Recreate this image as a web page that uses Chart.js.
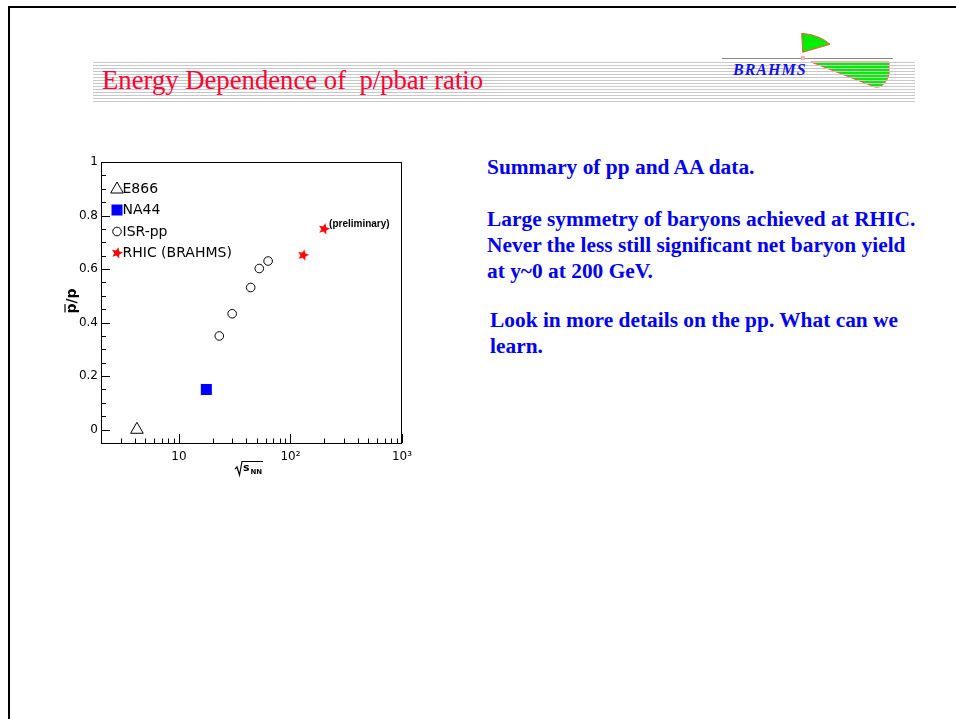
<!DOCTYPE html>
<html>
<head>
<meta charset="utf-8">
<script src="https://cdn.jsdelivr.net/npm/chart.js@4.4.0/dist/chart.umd.min.js"></script>
<style>
  body { margin: 0; background: #fff; }
  #page { position: relative; width: 956px; height: 719px; overflow: hidden; background: #fff; }
  #deco { position: absolute; left: 0; top: 0; }
  #title { position: absolute; left: 102px; top: 65px; font: 26.7px "Liberation Serif", serif; line-height: 30px;
           color: #ff0033; white-space: pre; }
  .txt { position: absolute; font: bold 21.4px "Liberation Serif", serif; line-height: 26px; color: #0000f0; white-space: pre; }
  #plot { position: absolute; left: 40px; top: 150px; }
</style>
</head>
<body>
<div id="page">
  <svg id="deco" width="956" height="719">
    <!-- slide frame -->
    <line x1="9" y1="7" x2="956" y2="7" stroke="#000" stroke-width="2"/>
    <line x1="9" y1="6" x2="9" y2="719" stroke="#000" stroke-width="2"/>
    <!-- logo -->
    <line x1="722" y1="58.5" x2="893" y2="58.5" stroke="#888" stroke-width="1"/>
    <path d="M801.7,33.3 Q820,35 830,44.3 L802.7,52.3 Z" fill="#00ee00" stroke="#ff5040" stroke-width="1"/>
    <rect x="801" y="56" width="4" height="4" fill="#ffb0b0"/>
    <path d="M811,62 L889,62 L889,75 Q886,84 879,87 L875,87 Z" fill="#00ee00" stroke="#ff5040" stroke-width="1"/>
    <g id="stripes" stroke="#c8c8c8" stroke-width="1"></g>
    <text x="733" y="75" font-family="Liberation Serif" font-weight="bold" font-style="italic" font-size="16" letter-spacing="1" fill="#1010ee">BRAHMS</text>
  </svg>
  <div id="title">Energy Dependence of  p/pbar ratio</div>
  <div class="txt" style="left:487px; top:154px;">Summary of pp and AA data.</div>
  <div class="txt" style="left:487px; top:206px;">Large symmetry of baryons achieved at RHIC.
Never the less still significant net baryon yield
at y~0 at 200 GeV.</div>
  <div class="txt" style="left:490px; top:307px;">Look in more details on the pp. What can we
learn.</div>
  <canvas id="plot" width="400" height="340"></canvas>
</div>
<script>
// header stripes
const g = document.getElementById('stripes');
for (let yy = 62; yy <= 101; yy += 3) {
    const l = document.createElementNS('http://www.w3.org/2000/svg', 'line');
    l.setAttribute('x1', 93); l.setAttribute('x2', 915);
    l.setAttribute('y1', yy + 0.5); l.setAttribute('y2', yy + 0.5);
    g.appendChild(l);
}

// data
const seriesNames = ['E866', 'NA44', 'ISR-pp', 'RHIC (BRAHMS)'];
const e866X = [4.2];
const e866Y = [0.0];
const na44X = [17.6];
const na44Y = [0.15];
const isrX = [23, 30, 44, 52.5, 63];
const isrY = [0.35, 0.433, 0.531, 0.602, 0.63];
const rhicX = [130, 200];
const rhicY = [0.652, 0.75];

const xMajorTicks = [10, 100, 1000];
const xTickLabels = ['10', '10²', '10³'];
const yMajorTicks = [0, 0.2, 0.4, 0.6, 0.8, 1];
const yTickLabels = ['0', '0.2', '0.4', '0.6', '0.8', '1'];

function pts(xs, ys) {
    return xs.map((x, i) => ({ x: x, y: ys[i] }));
}

// filled star marker (ROOT style 29)
function makeStar(r, color) {
    const c = document.createElement('canvas');
    c.width = c.height = Math.ceil(r * 2 + 2);
    const cx = c.width / 2, cy = c.height / 2;
    const k = c.getContext('2d');
    k.beginPath();
    for (let i = 0; i < 10; i++) {
        const rr = i % 2 ? r * 0.45 : r;
        const a = -Math.PI / 2 + 0.25 + i * Math.PI / 5;
        k.lineTo(cx + rr * Math.cos(a), cy + rr * Math.sin(a));
    }
    k.closePath();
    k.fillStyle = color;
    k.fill();
    return c;
}
const star = makeStar(6, '#ff0000');

function drawMarker(ctx, style, x, y) {
    ctx.save();
    ctx.lineWidth = 1;
    if (style === 'triangle') {
        ctx.beginPath();
        ctx.moveTo(x, y - 7); ctx.lineTo(x + 6.3, y + 4); ctx.lineTo(x - 6.3, y + 4); ctx.closePath();
        ctx.strokeStyle = '#000'; ctx.stroke();
    } else if (style === 'rect') {
        ctx.fillStyle = '#0000ff'; ctx.fillRect(x - 5.5, y - 5.5, 11, 11);
    } else if (style === 'circle') {
        ctx.beginPath(); ctx.arc(x, y, 4.3, 0, Math.PI * 2);
        ctx.strokeStyle = '#000'; ctx.stroke();
    } else {
        ctx.drawImage(star, x - star.width / 2, y - star.height / 2);
    }
    ctx.restore();
}

const rootDecor = {
    id: 'rootDecor',
    afterDraw(chart) {
        const { ctx, chartArea: a, scales } = chart;
        const x = scales.x, y = scales.y;
        ctx.save();
        ctx.strokeStyle = '#000';
        ctx.lineWidth = 1;
        ctx.strokeRect(a.left + 0.5, a.top + 0.5, a.right - a.left - 1, a.bottom - a.top);

        // x ticks (log, inside)
        ctx.beginPath();
        for (let d = 1; d <= 100; d *= 10) {
            for (let m = 1; m <= 10; m++) {
                const v = m * d;
                if (v < x.min || v > x.max) continue;
                const px = Math.round(x.getPixelForValue(v)) + 0.5;
                const len = xMajorTicks.includes(v) ? 9 : 4.5;
                ctx.moveTo(px, a.bottom);
                ctx.lineTo(px, a.bottom - len);
            }
        }
        // y ticks
        for (let i = 0; i <= 20; i++) {
            const v = i * 0.05;
            const py = Math.round(y.getPixelForValue(v)) + 0.5;
            const len = i % 4 === 0 ? 9 : 5;
            ctx.moveTo(a.left, py);
            ctx.lineTo(a.left + len, py);
        }
        ctx.stroke();

        // legend
        const styles = ['triangle', 'rect', 'circle', 'star'];
        const rows = [27, 48, 69.5, 91];
        ctx.font = '14px "DejaVu Sans"';
        ctx.fillStyle = '#000';
        ctx.textBaseline = 'middle';
        seriesNames.forEach((name, i) => {
            drawMarker(ctx, styles[i], a.left + 16, a.top + rows[i]);
            ctx.fillText(name, a.left + 21.5, a.top + rows[i] + 0.5);
        });

        // (preliminary) note next to the 200 GeV point
        const px = x.getPixelForValue(rhicX[1]), py = y.getPixelForValue(rhicY[1]);
        ctx.font = 'bold 10px "Liberation Sans"';
        ctx.textBaseline = 'middle';
        ctx.fillText('(preliminary)', px + 5, py - 4.5);

        // y title: pbar/p, rotated
        ctx.save();
        ctx.translate(33, 151);
        ctx.rotate(-Math.PI / 2);
        ctx.font = 'bold 14px "DejaVu Sans"';
        const wAll = ctx.measureText('p/p').width;
        const wp = ctx.measureText('p').width;
        ctx.textBaseline = 'alphabetic';
        ctx.textAlign = 'left';
        ctx.fillText('p/p', -wAll / 2, 3);
        ctx.lineWidth = 1.2;
        ctx.beginPath();
        ctx.moveTo(-wAll / 2 + 1, -8);
        ctx.lineTo(-wAll / 2 + wp - 0.5, -8);
        ctx.stroke();
        ctx.restore();

        // x title: sqrt(s_NN)
        const ox = 249 - 40, oy = 468 - 150;
        ctx.lineWidth = 1.2;
        ctx.beginPath();
        ctx.moveTo(ox - 14, oy + 1);
        ctx.lineTo(ox - 12, oy - 1);
        ctx.lineTo(ox - 9.5, oy + 7);
        ctx.lineTo(ox - 7, oy - 6.5);
        ctx.lineTo(ox + 14, oy - 6.5);
        ctx.stroke();
        ctx.textBaseline = 'alphabetic';
        ctx.font = 'bold 11px "DejaVu Sans"';
        ctx.fillText('s', ox - 6, oy + 3);
        ctx.font = 'bold 7px "DejaVu Sans"';
        ctx.fillText('NN', ox + 1.5, oy + 6);
        ctx.restore();
    }
};

new Chart(document.getElementById('plot'), {
    type: 'scatter',
    data: {
        datasets: [
            { label: seriesNames[0], data: pts(e866X, e866Y), pointStyle: 'triangle', pointRadius: 7.3,
              backgroundColor: 'rgba(0,0,0,0)', borderColor: '#000', borderWidth: 1 },
            { label: seriesNames[1], data: pts(na44X, na44Y), pointStyle: 'rect', pointRadius: 7.8,
              backgroundColor: '#0000ff', borderColor: '#0000ff', borderWidth: 0 },
            { label: seriesNames[2], data: pts(isrX, isrY), pointStyle: 'circle', pointRadius: 4.3,
              backgroundColor: 'rgba(0,0,0,0)', borderColor: '#000', borderWidth: 1 },
            { label: seriesNames[3], data: pts(rhicX, rhicY), pointStyle: star, pointRadius: 6,
              backgroundColor: '#ff0000', borderColor: '#ff0000' }
        ]
    },
    options: {
        responsive: false,
        devicePixelRatio: 1,
        animation: false,
        layout: { padding: { top: 12, right: 38, bottom: 0, left: 0 } },
        plugins: { legend: { display: false }, tooltip: { enabled: false } },
        scales: {
            x: {
                type: 'logarithmic',
                min: 2,
                max: 1000,
                grid: { display: false, drawTicks: false },
                border: { display: false },
                afterBuildTicks: s => { s.ticks = xMajorTicks.map(v => ({ value: v })); },
                afterFit: s => { s.height = 47; },
                ticks: {
                    autoSkip: false,
                    maxRotation: 0,
                    padding: 7,
                    color: '#000',
                    font: { family: 'DejaVu Sans', size: 12 },
                    callback: (v, i) => xTickLabels[i]
                }
            },
            y: {
                min: -0.05,
                max: 1,
                grid: { display: false, drawTicks: false },
                border: { display: false },
                afterBuildTicks: s => { s.ticks = yMajorTicks.map(v => ({ value: v })); },
                afterFit: s => { s.width = 61; },
                ticks: {
                    autoSkip: false,
                    padding: 3,
                    color: '#000',
                    font: { family: 'DejaVu Sans', size: 12 },
                    callback: (v, i) => yTickLabels[i]
                }
            }
        }
    },
    plugins: [rootDecor]
});
</script>
</body>
</html>
